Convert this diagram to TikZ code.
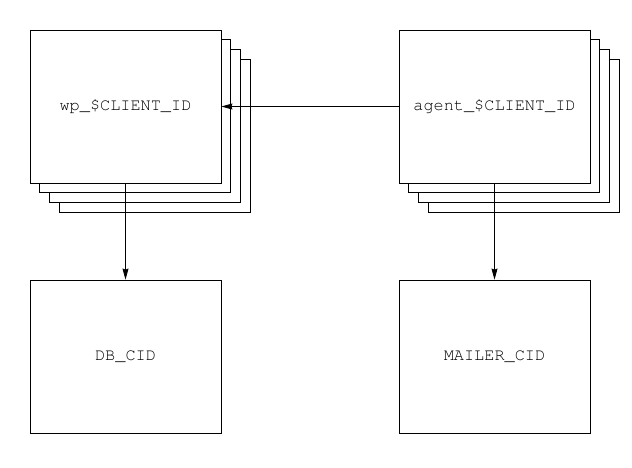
\documentclass[tikz,border=0pt]{standalone}
\usepackage{fontspec}
\newfontfamily\codefont{TeX Gyre Cursor}
\usetikzlibrary{arrows.meta}

\begin{document}
\begin{tikzpicture}[x=1pt,y=-1pt]

%
% Styles
%
\tikzstyle{unit}  = [draw,fill=white,line width=0.8pt,minimum width=191pt,minimum height=153pt,inner sep=0pt,font=\codefont\fontsize{16.9}{20}\selectfont]
\tikzstyle{edge}  = [-{Stealth[length=11pt,width=6pt,inset=1pt]},line width=0.8pt]

\useasboundingbox (0,0) rectangle (632,467);

% stacked copies
\foreach \k in {3,2,1} {
  \node[unit] (wp\k)    at (125.5+9.7*\k, 106.5+9.7*\k) {};
  \node[unit] (agent\k) at (494.5+9.7*\k, 106.5+9.7*\k) {};
}

\node[unit] (wp)     at (125.5, 106.5) {wp\_\$CLIENT\_ID};
\node[unit] (agent)  at (494.5, 106.5) {agent\_\$CLIENT\_ID};
\node[unit] (db)     at (125.5, 356.5) {DB\_CID};
\node[unit] (mailer) at (494.5, 356.5) {MAILER\_CID};

\draw[edge] (agent.west) -- (wp.east);
\draw[edge] (wp.south) -- (db.north);
\draw[edge] (agent.south) -- (mailer.north);

\end{tikzpicture}
\end{document}
